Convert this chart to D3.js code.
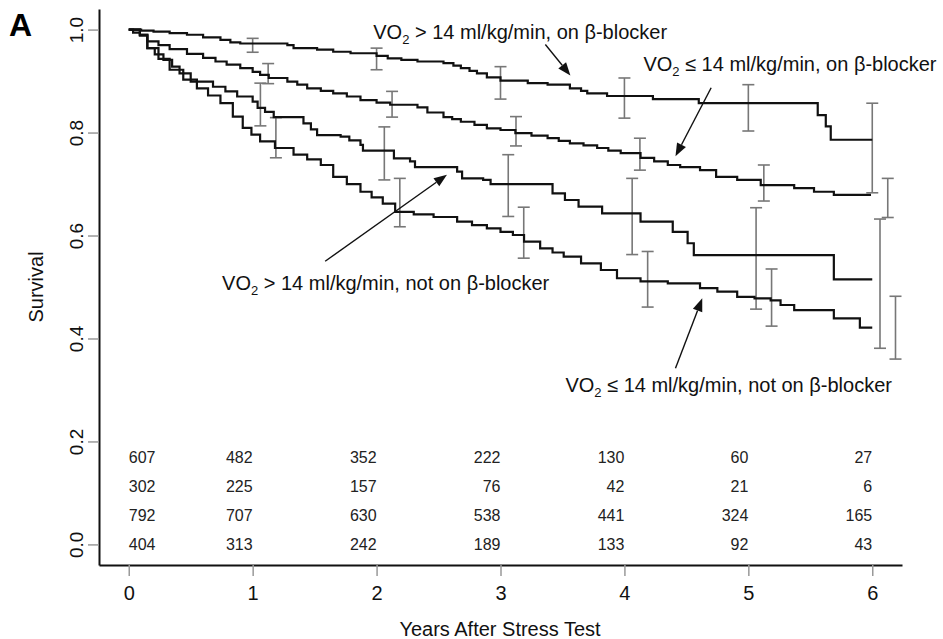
<!DOCTYPE html>
<html>
<head>
<meta charset="utf-8">
<script src="https://cdn.jsdelivr.net/npm/d3@7"></script>
<style>
    body { margin: 0; background: #fff; }
    svg { font-family: "Liberation Sans", Arial, sans-serif; }
</style>
</head>
<body>
<div id="main"></div>
<script>

// axis ticks
const years = [0, 1, 2, 3, 4, 5, 6];
const yTicks = [0.0, 0.2, 0.4, 0.6, 0.8, 1.0];

// Kaplan-Meier curves, [years, survival]
const highOnBB = [[0, 1.000], [0.10, 0.998], [0.20, 0.996], [0.33, 0.993], [0.47, 0.990], [0.60, 0.985], [0.74, 0.980], [0.82, 0.975], [0.90, 0.973], [1.28, 0.970], [1.33, 0.964], [1.52, 0.961], [1.65, 0.957], [1.79, 0.954], [2.00, 0.949], [2.09, 0.944], [2.20, 0.941], [2.33, 0.938], [2.54, 0.935], [2.62, 0.930], [2.68, 0.925], [2.75, 0.920], [2.81, 0.915], [2.89, 0.907], [3.00, 0.901], [3.22, 0.896], [3.38, 0.893], [3.56, 0.886], [3.65, 0.881], [3.70, 0.876], [3.86, 0.871], [4.23, 0.865], [4.60, 0.857], [5.56, 0.834], [5.625, 0.812], [5.665, 0.786], [6.00, 0.786]];

const lowOnBB = [[0, 1.000], [0.035, 0.994], [0.09, 0.988], [0.15, 0.977], [0.24, 0.970], [0.33, 0.962], [0.47, 0.953], [0.60, 0.945], [0.70, 0.938], [0.79, 0.932], [0.90, 0.925], [1.00, 0.918], [1.06, 0.912], [1.13, 0.906], [1.28, 0.899], [1.36, 0.893], [1.44, 0.886], [1.55, 0.881], [1.65, 0.876], [1.76, 0.870], [1.87, 0.863], [2.00, 0.858], [2.11, 0.854], [2.33, 0.849], [2.41, 0.839], [2.54, 0.830], [2.61, 0.826], [2.68, 0.821], [2.79, 0.815], [2.89, 0.808], [3.00, 0.805], [3.12, 0.799], [3.25, 0.794], [3.38, 0.789], [3.47, 0.784], [3.56, 0.779], [3.67, 0.775], [3.78, 0.770], [3.87, 0.765], [3.97, 0.760], [4.13, 0.751], [4.24, 0.744], [4.35, 0.737], [4.45, 0.733], [4.61, 0.727], [4.74, 0.714], [4.91, 0.708], [5.10, 0.698], [5.37, 0.692], [5.53, 0.685], [5.69, 0.679], [5.99, 0.679]];

const highNoBB = [[0, 1.000], [0.09, 0.990], [0.15, 0.964], [0.21, 0.952], [0.28, 0.941], [0.35, 0.928], [0.41, 0.915], [0.50, 0.899], [0.68, 0.889], [0.78, 0.880], [0.875, 0.870], [1.00, 0.860], [1.04, 0.848], [1.10, 0.840], [1.17, 0.830], [1.41, 0.818], [1.47, 0.806], [1.52, 0.795], [1.71, 0.792], [1.78, 0.785], [1.87, 0.776], [1.89, 0.765], [2.14, 0.750], [2.27, 0.744], [2.31, 0.733], [2.65, 0.724], [2.69, 0.711], [2.86, 0.708], [2.92, 0.700], [3.42, 0.682], [3.52, 0.669], [3.63, 0.656], [3.82, 0.643], [4.13, 0.627], [4.39, 0.607], [4.51, 0.585], [4.56, 0.562], [5.69, 0.515], [6.00, 0.515]];

const lowNoBB = [[0, 1.000], [0.09, 0.990], [0.15, 0.964], [0.24, 0.943], [0.33, 0.922], [0.44, 0.903], [0.55, 0.886], [0.64, 0.872], [0.74, 0.857], [0.84, 0.831], [0.92, 0.809], [0.99, 0.796], [1.06, 0.783], [1.18, 0.770], [1.33, 0.757], [1.44, 0.748], [1.55, 0.737], [1.65, 0.714], [1.76, 0.700], [1.87, 0.685], [1.96, 0.674], [2.05, 0.662], [2.15, 0.646], [2.30, 0.641], [2.46, 0.636], [2.65, 0.627], [2.77, 0.620], [2.89, 0.614], [3.00, 0.607], [3.10, 0.601], [3.19, 0.588], [3.32, 0.575], [3.42, 0.567], [3.51, 0.559], [3.65, 0.546], [3.81, 0.533], [3.94, 0.517], [4.13, 0.511], [4.35, 0.507], [4.61, 0.498], [4.75, 0.491], [4.91, 0.481], [5.05, 0.478], [5.18, 0.474], [5.26, 0.465], [5.37, 0.455], [5.69, 0.439], [5.90, 0.421], [6.00, 0.421]];

// confidence bars at years 1..6, [lower, upper]
const ciHighOnBB = [[0.956, 0.983], [0.922, 0.964], [0.865, 0.928], [0.828, 0.906], [0.803, 0.893], [0.683, 0.857]];
const ciLowOnBB = [[0.895, 0.934], [0.830, 0.880], [0.774, 0.831], [0.727, 0.789], [0.667, 0.737], [0.635, 0.711]];
const ciHighNoBB = [[0.813, 0.896], [0.708, 0.811], [0.637, 0.757], [0.563, 0.711], [0.457, 0.654], [0.381, 0.632]];
const ciLowNoBB = [[0.751, 0.829], [0.617, 0.711], [0.556, 0.655], [0.461, 0.569], [0.424, 0.535], [0.360, 0.482]];

// numbers at risk
const riskRow1 = [607, 482, 352, 222, 130, 60, 27];
const riskRow2 = [302, 225, 157, 76, 42, 21, 6];
const riskRow3 = [792, 707, 630, 538, 441, 324, 165];
const riskRow4 = [404, 313, 242, 189, 133, 92, 43];


const w = 943;
const h = 639;

const svg = d3.select('#main').append('svg').attr('width', w).attr('height', h);

const xScale = d3.scaleLinear().domain([-0.24, 6.24]).range([99, 902]);
const yScale = d3.scaleLinear().domain([-0.04, 1.04]).range([565, 9]);


// axes

const xAxis = d3.axisBottom(xScale).tickValues(years).tickFormat(d3.format('d')).tickSize(11).tickSizeOuter(0).tickPadding(10);
const yAxis = d3.axisLeft(yScale).tickValues(yTicks).tickFormat(d3.format('.1f')).tickSize(11).tickSizeOuter(0);

const gx = svg.append('g').attr('transform', `translate(0,565)`).call(xAxis);
const gy = svg.append('g').attr('transform', `translate(99,0)`).call(yAxis);

[gx, gy].forEach(g => {
    g.select('.domain').attr('stroke', '#111').attr('stroke-width', 2);
    g.selectAll('.tick line').attr('stroke', '#999').attr('stroke-width', 1.5);
    g.selectAll('.tick text').attr('fill', '#111').style('font-size', '20px');
});

gy.selectAll('.tick text')
    .attr('x', 0).attr('y', -16).attr('dy', null)
    .attr('transform', 'rotate(-90)')
    .style('text-anchor', 'middle')
    .style('font-size', '19px');


// axis titles

svg.append('text').text('Years After Stress Test')
    .attr('x', 500).attr('y', 636)
    .style('text-anchor', 'middle').style('font-size', '20px').attr('fill', '#111');

svg.append('text').text('Survival')
    .attr('transform', 'translate(43,287) rotate(-90)')
    .style('text-anchor', 'middle').style('font-size', '20px').attr('fill', '#111');

svg.append('text').text('A')
    .attr('x', 9).attr('y', 36)
    .style('font-size', '32px').style('font-weight', 'bold');


// numbers at risk

const riskRows = [riskRow1, riskRow2, riskRow3, riskRow4];
const riskLevels = [0.17, 0.113, 0.057, 0];

riskRows.forEach((row, r) => {
    svg.append('g').selectAll('text').data(row).enter().append('text')
        .text(d => d)
        .attr('x', (d, i) => xScale(years[i]))
        .attr('y', yScale(riskLevels[r]))
        .attr('dy', '0.36em')
        .style('text-anchor', (d, i) => i == 0 ? 'start' : 'end')
        .style('font-size', '16px')
        .attr('fill', '#222');
});


// error bars

const bars = [
    { ci: ciHighOnBB, off: 0 },
    { ci: ciHighNoBB, off: 1 / 16 },
    { ci: ciLowOnBB, off: 2 / 16 },
    { ci: ciLowNoBB, off: 3 / 16 }
];

const barG = svg.append('g').attr('stroke', '#777').attr('stroke-width', 1.6).attr('fill', 'none');

bars.forEach(b => {
    b.ci.forEach((c, i) => {
        const cx = xScale(years[i + 1] + b.off);
        barG.append('line').attr('x1', cx).attr('x2', cx).attr('y1', yScale(c[0])).attr('y2', yScale(c[1]));
        barG.append('line').attr('x1', cx - 6).attr('x2', cx + 6).attr('y1', yScale(c[0])).attr('y2', yScale(c[0]));
        barG.append('line').attr('x1', cx - 6).attr('x2', cx + 6).attr('y1', yScale(c[1])).attr('y2', yScale(c[1]));
    });
});


// survival curves

const line = d3.line()
    .x(d => xScale(d[0]))
    .y(d => yScale(d[1]))
    .curve(d3.curveStepAfter);

svg.append('g').selectAll('path').data([highOnBB, lowOnBB, highNoBB, lowNoBB]).enter().append('path')
    .attr('d', line)
    .attr('fill', 'none')
    .attr('stroke', '#111')
    .attr('stroke-width', 2.2);


// labels and arrows

const notes = [
    { rel: '>', rest: '14 ml/kg/min, on β-blocker', t: 1.973, v: 0.981, from: [3.362, 0.971], to: [3.564, 0.911] },
    { rel: '≤', rest: '14 ml/kg/min, on β-blocker', t: 4.153, v: 0.919, from: [4.700, 0.887], to: [4.412, 0.754] },
    { rel: '>', rest: '14 ml/kg/min, not on β-blocker', t: 0.753, v: 0.494, from: [1.585, 0.550], to: [2.568, 0.718] },
    { rel: '≤', rest: '14 ml/kg/min, not on β-blocker', t: 3.524, v: 0.296, from: [4.412, 0.342], to: [4.628, 0.478] }
];

notes.forEach(n => {
    const t = svg.append('text')
        .attr('x', xScale(n.t)).attr('y', yScale(n.v))
        .style('font-size', '20px').attr('fill', '#111');
    t.append('tspan').text('VO');
    t.append('tspan').text('2').attr('dy', 5).style('font-size', '13px');
    t.append('tspan').text(` ${n.rel} ${n.rest}`).attr('dy', -5);

    const x1 = xScale(n.from[0]), y1 = yScale(n.from[1]);
    const x2 = xScale(n.to[0]), y2 = yScale(n.to[1]);
    const a = Math.atan2(y2 - y1, x2 - x1);
    const len = 13, half = 5;
    const bx = x2 - len * Math.cos(a), by = y2 - len * Math.sin(a);

    svg.append('line')
        .attr('x1', x1).attr('y1', y1).attr('x2', bx).attr('y2', by)
        .attr('stroke', '#111').attr('stroke-width', 1.4);

    svg.append('path')
        .attr('d', `M${x2},${y2}L${bx + half * Math.sin(a)},${by - half * Math.cos(a)}L${bx - half * Math.sin(a)},${by + half * Math.cos(a)}Z`)
        .attr('fill', '#111');
});

</script>
</body>
</html>
